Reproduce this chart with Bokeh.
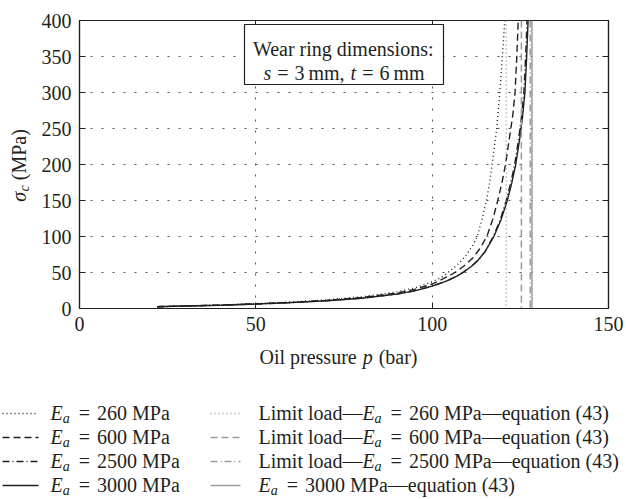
import math

from bokeh.plotting import figure
from bokeh.models import (LinearAxis, CustomJSTickFormatter, Span, BoxAnnotation,
                          Label, ColumnDataSource)
from bokeh.layouts import row
from bokeh.core.properties import value, field
from bokeh.embed import file_html
from bokeh.resources import INLINE

# ---------------------------------------------------------------------------
# Contact stress sigma_c (MPa) against oil pressure p (bar) for four wear-ring
# moduli, plus the limit load of each modulus from equation (43).
# ---------------------------------------------------------------------------
moduli = [260, 600, 2500, 3000]

p_260 = [22, 30, 40, 50, 60, 70, 80, 90, 95, 100, 102.5, 104.5, 107, 109.5,
         111.3, 112.8, 114.2, 115.4, 116.3, 117.0, 118.3, 119.2, 119.9, 120.6]
sig_260 = [2.6, 3.6, 4.9, 6.7, 9.0, 12.0, 16.3, 23, 28.5, 37, 43, 50, 60, 73,
           86, 100, 125, 150, 175, 200, 250, 300, 350, 400]

p_600 = [22, 30, 40, 50, 60, 70, 80, 90, 95, 100, 103, 106.5, 109, 111.5,
         113.5, 115.5, 117.2, 118.6, 119.8, 120.8, 122.0, 122.9, 123.5, 124.0, 124.4]
sig_600 = [2.5, 3.5, 4.7, 6.4, 8.5, 11.3, 15.2, 21.5, 26.5, 34, 41, 50, 59, 70,
           83, 100, 124, 150, 175, 200, 240, 270, 300, 350, 400]

p_2500 = [22, 30, 40, 50, 60, 70, 80, 90, 95, 100, 104, 107, 109, 111, 113,
          115, 117.3, 119.3, 121.0, 122.3, 123.4, 124.5, 125.3, 126.0, 126.5, 126.9]
sig_2500 = [2.5, 3.4, 4.6, 6.2, 8.2, 10.8, 14.3, 20, 24.5, 31, 38, 45, 51, 58,
            67, 79, 100, 123, 150, 175, 200, 235, 265, 300, 350, 400]

p_3000 = [22, 30, 40, 50, 60, 70, 80, 90, 95, 100, 104, 107, 109, 111, 113,
          115, 117.5, 119.5, 121.3, 122.6, 123.7, 124.8, 125.6, 126.3, 126.8, 127.2]
sig_3000 = [2.5, 3.4, 4.6, 6.2, 8.2, 10.8, 14.3, 20, 24.5, 31, 38, 45, 51, 58,
            67, 79, 100, 123, 150, 175, 200, 235, 265, 300, 350, 400]

# limit load (bar) of each modulus, equation (43)
limit_p = [121.0, 125.3, 127.8, 128.3]

x_ticks = [0, 50, 100, 150]
y_ticks = [0, 50, 100, 150, 200, 250, 300, 350, 400]
x_grid = [50, 100]
y_grid = [50, 100, 150, 200, 250, 300, 350]

curves = [(p_260, sig_260), (p_600, sig_600), (p_2500, sig_2500), (p_3000, sig_3000)]
dashes = ["1 3", "7 4", "7 3 1 3", "solid"]

# ---------------------------------------------------------------------------
FONT = "Liberation Serif"
INK = "#231f20"
LIMIT_GRAY = "#9b9b9b"
FS = 20          # main text size (px)
FS_SUB = 14      # subscript size (px)
LIFT = 0.3       # glyph text draws this many ems below its alphabetic anchor

# Times-compatible advance widths (per 1000 em), used to set mixed
# italic/roman labels piece by piece.
REG = {" ": 250, "(": 333, ")": 333, ",": 250, ":": 278, "=": 564, "\u2014": 1000,
       "E": 611, "L": 611, "M": 889, "P": 556, "O": 722, "W": 944,
       "a": 444, "b": 500, "c": 444, "d": 500, "e": 444, "g": 500, "i": 278,
       "l": 278, "m": 778, "n": 500, "o": 500, "p": 500, "q": 500, "r": 333,
       "s": 389, "t": 278, "u": 500, "w": 722}
for _d in "0123456789":
    REG[_d] = 500
ITA = {"E": 611, "a": 500, "s": 389, "t": 278, "p": 500, "c": 444, "\u03c3": 520}


def text_width(s, size, italic):
    table = ITA if italic else REG
    return sum(table.get(ch, REG.get(ch, 500)) for ch in s) * size / 1000.0


def compose(items, x0):
    """Lay pieces out left to right; numbers in `items` are extra gaps (px)."""
    out, x = [], x0
    for it in items:
        if isinstance(it, (int, float)):
            x += it
            continue
        txt, ital, size, shift = it
        out.append((x, txt, ital, size, shift))
        x += text_width(txt, size, ital)
    return out


def span_width(items):
    pieces = compose(items, 0)
    x, txt, ital, size, _ = pieces[-1]
    return x + text_width(txt, size, ital)


def add_text(fig, pieces, to_data, angle=0.0):
    """Draw composed pieces (page px, baseline) as text glyphs."""
    for ital in (False, True):
        rows = [r for r in pieces if r[2] == ital]
        if not rows:
            continue
        pts = []
        for x, y, _, _, size in rows:
            if angle:
                x -= LIFT * size
            else:
                y -= LIFT * size
            pts.append(to_data(x, y))
        xs, ys = zip(*pts)
        src = ColumnDataSource(dict(x=list(xs), y=list(ys), text=[r[3] for r in rows],
                                    size=[f"{r[4]}px" for r in rows]))
        fig.text(x="x", y="y", text="text", source=src, angle=angle,
                 text_font=value(FONT), text_font_size=field("size"),
                 text_font_style="italic" if ital else "normal",
                 text_color=INK, text_align="left", text_baseline="alphabetic")


def blank_fig(w, h, top=0, bottom=0):
    f = figure(width=w, height=h, x_range=(0, w), y_range=(0, h - top - bottom),
               x_axis_location=None, y_axis_location=None,
               output_backend="svg", toolbar_location=None,
               min_border_left=0, min_border_right=0,
               min_border_top=top, min_border_bottom=bottom,
               background_fill_color="white", border_fill_color="white")
    f.outline_line_color = None
    f.grid.visible = False
    return f


# ---------------------------------------------------------------------------
# main chart
HA = 340                 # height of the chart row
YW = 36                  # width of the y-title strip
FRAME_L, FRAME_R, FRAME_T, FRAME_B = 79, 608, 20, 308
W = 626 - YW

p = figure(width=W, height=HA, x_range=(0, 150), y_range=(0, 400),
           output_backend="svg", toolbar_location=None,
           min_border_left=FRAME_L - YW, min_border_right=626 - FRAME_R,
           min_border_top=FRAME_T, min_border_bottom=HA - FRAME_B,
           background_fill_color="white", border_fill_color="white")
p.outline_line_color = INK
p.outline_line_width = 1.2


def dx(px):
    return (px - FRAME_L) / (FRAME_R - FRAME_L) * 150


def dy(py):
    return (FRAME_B - py) / (FRAME_B - FRAME_T) * 400


for ax in (p.xaxis[0], p.yaxis[0]):
    ax.major_label_text_font = FONT
    ax.major_label_text_font_size = f"{FS}px"
    ax.major_label_text_color = INK
    ax.major_label_standoff = 8
p.xaxis.ticker = x_ticks
p.yaxis.ticker = y_ticks

for loc, ticks in (("right", y_ticks), ("above", x_ticks)):
    p.add_layout(LinearAxis(ticker=ticks,
                            formatter=CustomJSTickFormatter(code="return ''"),
                            major_label_standoff=0), loc)

for ax in p.axis:
    ax.major_tick_in = 6
    ax.major_tick_out = 0
    ax.minor_tick_line_color = None
    ax.axis_line_color = INK
    ax.major_tick_line_color = INK
    ax.axis_line_width = 1.2

p.xgrid.ticker = x_grid
p.ygrid.ticker = y_grid
p.grid.grid_line_color = "#555555"
p.grid.grid_line_dash = "2 9"
p.grid.grid_line_width = 1

# limit loads, equation (43)
for lp, dash in zip(limit_p, dashes):
    p.add_layout(Span(location=lp, dimension="height", line_color=LIMIT_GRAY,
                      line_width=1.5, line_dash=dash))

# stress curves
for (px_, sy_), dash in zip(curves, dashes):
    p.line(px_, sy_, line_color=INK, line_width=1.4, line_dash=dash)

# wear ring dimension note
p.add_layout(BoxAnnotation(left=dx(244), right=dx(443), top=dy(24), bottom=dy(84),
                           fill_color="white", fill_alpha=1.0,
                           line_color=INK, line_width=1.2, line_alpha=1.0))


def add_labels(pieces, baseline_py):
    for x, txt, ital, size, shift in pieces:
        p.add_layout(Label(x=dx(x), y=dy(baseline_py + shift - LIFT * size), text=txt,
                           text_font=FONT, text_font_size=f"{size}px",
                           text_font_style="italic" if ital else "normal",
                           text_color=INK, text_align="left",
                           text_baseline="alphabetic"))


line1 = [("Wear ring dimensions:", False, FS, 0)]
add_labels(compose(line1, 343.5 - span_width(line1) / 2), 54)
line2 = [("s", True, FS, 0), 6, ("=", False, FS, 0), 6, ("3", False, FS, 0), 4,
         ("mm,", False, FS, 0), 6, ("t", True, FS, 0), 6, ("=", False, FS, 0), 6,
         ("6", False, FS, 0), 4, ("mm", False, FS, 0)]
add_labels(compose(line2, 343.5 - span_width(line2) / 2), 78)

# ---------------------------------------------------------------------------
# y-axis title strip, read bottom to top
yfig = blank_fig(YW, HA, top=FRAME_T, bottom=HA - FRAME_B)
yt = [("\u03c3", True, FS, 0), ("c", True, FS_SUB, 4), 5, ("(MPa)", False, FS, 0)]
y_start = 165 + span_width(yt) / 2
yt_pieces = [(24 + shift, y_start - off, ital, txt, size)
             for off, txt, ital, size, shift in compose(yt, 0)]
add_text(yfig, yt_pieces, lambda x, y: (x, FRAME_B - y), angle=math.pi / 2)

# ---------------------------------------------------------------------------
# x-axis title and legend strip under the chart
LH = 499 - HA
leg = blank_fig(626, LH)


def leg_xy(x, y):
    return x, HA + LH - y


xt = [("Oil pressure", False, FS, 0), 6, ("p", True, FS, 0), 6, ("(bar)", False, FS, 0)]
add_text(leg, [(x, 362 + s, i, t, z)
               for x, t, i, z, s in compose(xt, 338 - span_width(xt) / 2)], leg_xy)

row_base = [418, 442, 466, 490]
leg_pieces = []
for i, (Ea, dash, yb) in enumerate(zip(moduli, dashes, row_base)):
    ly = HA + LH - (yb - 5)
    leg.line([2, 38], [ly, ly], line_color=INK, line_width=1.3, line_dash=dash)
    leg.line([210, 240], [ly, ly], line_color=LIMIT_GRAY, line_width=1.5,
             line_dash=dash)
    ea = [("E", True, FS, 0), ("a", True, FS_SUB, 4), 9, ("=", False, FS, 0), 7,
          (str(Ea), False, FS, 0), 5]
    left = ea + [("MPa", False, FS, 0)]
    right = ([("Limit load\u2014", False, FS, 0)] if i < 3 else []) + ea + \
        [("MPa\u2014equation (43)", False, FS, 0)]
    for x, txt, ital, size, shift in compose(left, 50) + compose(right, 258):
        leg_pieces.append((x, yb + shift, ital, txt, size))
add_text(leg, leg_pieces, leg_xy)

open("out.html", "w").write(file_html([row(yfig, p), leg], INLINE))
